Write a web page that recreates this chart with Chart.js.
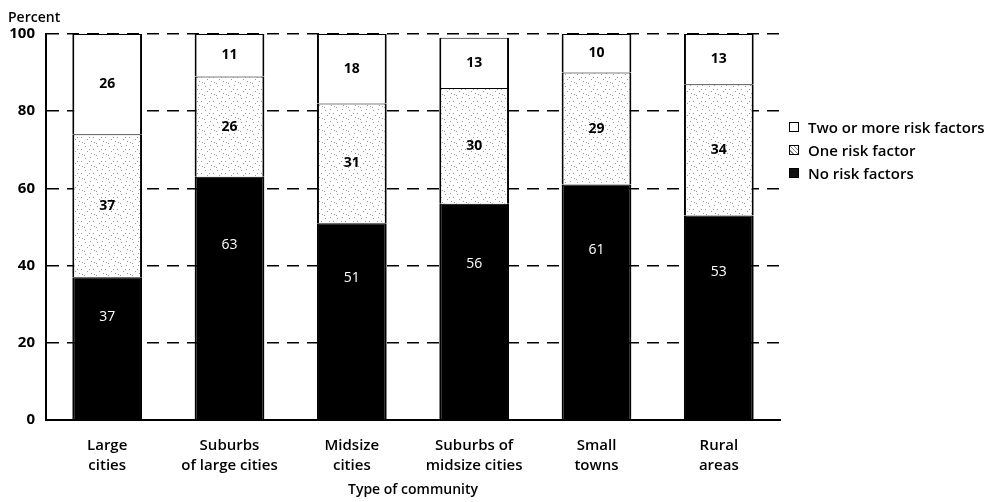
<!DOCTYPE html>
<html>
<head>
<meta charset="utf-8">
<script src="https://cdn.jsdelivr.net/npm/chart.js@4.4.1/dist/chart.umd.min.js"></script>
<style>
  body { margin: 0; background: #fff; font-family: "Open Sans", sans-serif; }
  #wrap { position: relative; width: 1005px; height: 502px; }
  #percent { position: absolute; left: 8px; top: 7px; font-size: 14px; font-weight: 600; }
  #legend { position: absolute; left: 789px; top: 117px; font-size: 15px; font-weight: 600; }
  #legend div { height: 23px; line-height: 20px; white-space: nowrap; }
  #legend span { display: inline-block; width: 8px; height: 8px; border: 1px solid #000; margin-right: 9px; vertical-align: 1px; }
</style>
</head>
<body>
<div id="wrap">
  <canvas id="chart" width="1005" height="502"></canvas>
  <div id="percent">Percent</div>
  <div id="legend"></div>
</div>
<script>
const categories = [
  ['Large', 'cities'],
  ['Suburbs', 'of large cities'],
  ['Midsize', 'cities'],
  ['Suburbs of', 'midsize cities'],
  ['Small', 'towns'],
  ['Rural', 'areas'],
];
const noRisk = [37, 63, 51, 56, 61, 53];
const oneRisk = [37, 26, 31, 30, 29, 34];
const twoOrMore = [26, 11, 18, 13, 10, 13];
const yTicks = [0, 20, 40, 60, 80, 100];

// speckled fill for the "one risk factor" segments
function speckle() {
  const c = document.createElement('canvas');
  c.width = 12; c.height = 12;
  const g = c.getContext('2d');
  g.fillStyle = '#fff';
  g.fillRect(0, 0, 12, 12);
  g.fillStyle = '#9a9a9a';
  [[1, 2], [6, 1], [9, 5], [3, 7], [7, 9], [10, 10], [0, 11], [5, 5]].forEach(([x, y]) => g.fillRect(x, y, 1, 1));
  return g.createPattern(c, 'repeat');
}

const segLabels = {
  id: 'segLabels',
  afterDatasetsDraw(chart) {
    const { ctx } = chart;
    ctx.save();
    ctx.textAlign = 'center';
    ctx.textBaseline = 'middle';
    chart.data.datasets.forEach((ds, i) => {
      chart.getDatasetMeta(i).data.forEach((bar, j) => {
        const top = bar.y, base = bar.base;
        let y = (top + base) / 2;
        if (i === 0) {
          y = base - (base - top) * 0.72;
          ctx.fillStyle = '#fff';
          ctx.font = '400 14px "Open Sans"';
        } else {
          ctx.fillStyle = '#000';
          ctx.font = '700 14px "Open Sans"';
        }
        ctx.fillText(ds.data[j], bar.x, y);
      });
    });
    ctx.restore();
  }
};

const datasets = [
  { label: 'No risk factors', data: noRisk, backgroundColor: '#000' },
  { label: 'One risk factor', data: oneRisk, backgroundColor: speckle() },
  { label: 'Two or more risk factors', data: twoOrMore, backgroundColor: '#fff' },
].map(d => Object.assign(d, {
  borderColor: '#000',
  borderWidth: { left: 2, right: 2, top: 1, bottom: 0 },
  borderSkipped: false,
  barPercentage: 0.57,
  categoryPercentage: 1,
}));

const legend = document.getElementById('legend');
[
  ['Two or more risk factors', '#fff'],
  ['One risk factor', 'repeating-linear-gradient(45deg,#fff 0 2px,#888 2px 3px)'],
  ['No risk factors', '#111'],
].forEach(([t, bg]) => {
  const row = document.createElement('div');
  row.innerHTML = `<span style="background:${bg}"></span>${t}`;
  legend.appendChild(row);
});

new Chart(document.getElementById('chart'), {
  type: 'bar',
  data: { labels: categories, datasets },
  options: {
    responsive: false,
    animation: false,
    layout: { padding: { left: 0, right: 225, top: 34, bottom: 0 } },
    plugins: { legend: { display: false }, tooltip: { enabled: false } },
    scales: {
      x: {
        stacked: true,
        grid: { display: false },
        border: { display: true, color: '#000', width: 2 },
        ticks: { color: '#000', font: { family: 'Open Sans', size: 15, weight: '600', lineHeight: 1.3 }, padding: 8, maxRotation: 0 },
        title: { display: true, text: 'Type of community', color: '#000', font: { family: 'Open Sans', size: 14, weight: '600' }, padding: { top: 14 } },
        afterFit(s) { s.height = 82; },
      },
      y: {
        stacked: true,
        min: 0, max: 100,
        afterBuildTicks(s) { s.ticks = yTicks.map(v => ({ value: v })); },
        grid: {
          drawTicks: false,
          color: c => (c.tick.value === 0 ? 'rgba(0,0,0,0)' : '#000'),
          lineWidth: 1.5,
        },
        border: { display: true, color: '#000', width: 2, dash: [12, 8] },
        ticks: { color: '#000', font: { family: 'Open Sans', size: 15, weight: '700' }, padding: 11 },
        afterFit(s) { s.width = 46; },
      },
    },
  },
  plugins: [segLabels],
});
</script>
</body>
</html>
